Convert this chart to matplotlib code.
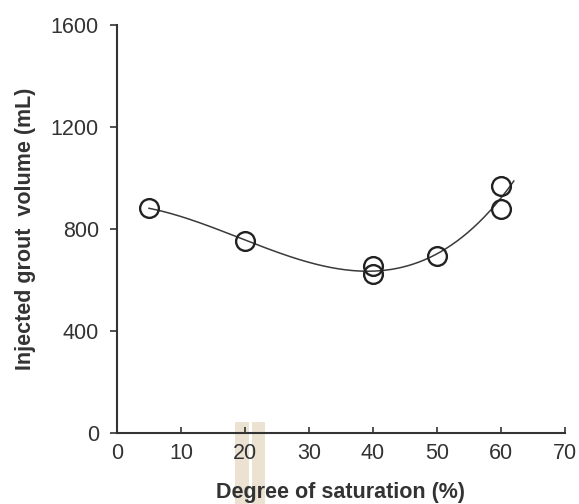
import numpy as np
import matplotlib
matplotlib.use("Agg")
import matplotlib.pyplot as plt
from matplotlib.patches import Rectangle

plt.rcParams["font.family"] = ["Liberation Sans", "DejaVu Sans"]

saturation = [5, 20, 40, 40, 50, 60, 60]
grout_volume = [882, 754, 655, 622, 695, 968, 878]

# trend line range
fit_start, fit_end = 5, 62

x_ticks = [0, 10, 20, 30, 40, 50, 60, 70]
y_ticks = [0, 400, 800, 1200, 1600]

dark = "#333333"
fs = 15.5

fig = plt.figure(figsize=(5.79, 5.04), dpi=100)
ax = fig.add_axes([117 / 579, 71 / 504, 448 / 579, 408 / 504])
ax.set_facecolor("none")

# faint beige highlight strips under the axis near x = 20
for x0, x1 in [(235, 249), (251.5, 264.5)]:
    fig.patches.append(Rectangle((x0 / 579, 0), (x1 - x0) / 579, 82 / 504,
                                 transform=fig.transFigure, facecolor="#ebe2d2",
                                 edgecolor="none", zorder=-1))

# cubic trend line through the points
coef = np.polyfit(saturation, grout_volume, 3)
xs = np.linspace(fit_start, fit_end, 200)
ax.plot(xs, np.polyval(coef, xs), color="#3a3a3a", linewidth=1.1, zorder=2)

ax.plot(saturation, grout_volume, linestyle="none", marker="o",
        markersize=13.5, markerfacecolor="none", markeredgecolor="#222222",
        markeredgewidth=1.7, zorder=3)

ax.set_xlim(0, 70)
ax.set_ylim(0, 1600)
ax.set_xticks(x_ticks)
ax.set_yticks(y_ticks)

for side in ("top", "right"):
    ax.spines[side].set_visible(False)
for side in ("left", "bottom"):
    ax.spines[side].set_color(dark)
    ax.spines[side].set_linewidth(1.5)

ax.tick_params(axis="y", direction="out", length=5, width=1.2, color=dark,
               labelsize=fs, labelcolor=dark, pad=8)
ax.tick_params(axis="x", direction="in", length=4, width=1.2, color=dark,
               labelsize=fs, labelcolor=dark, pad=7)

ax.set_xlabel("Degree of saturation (%)", fontsize=fs, fontweight="bold",
              color=dark, labelpad=13)
ax.set_ylabel("Injected grout  volume (mL)", fontsize=fs, fontweight="bold",
              color=dark, labelpad=11)

fig.savefig("out.png", dpi=100)
